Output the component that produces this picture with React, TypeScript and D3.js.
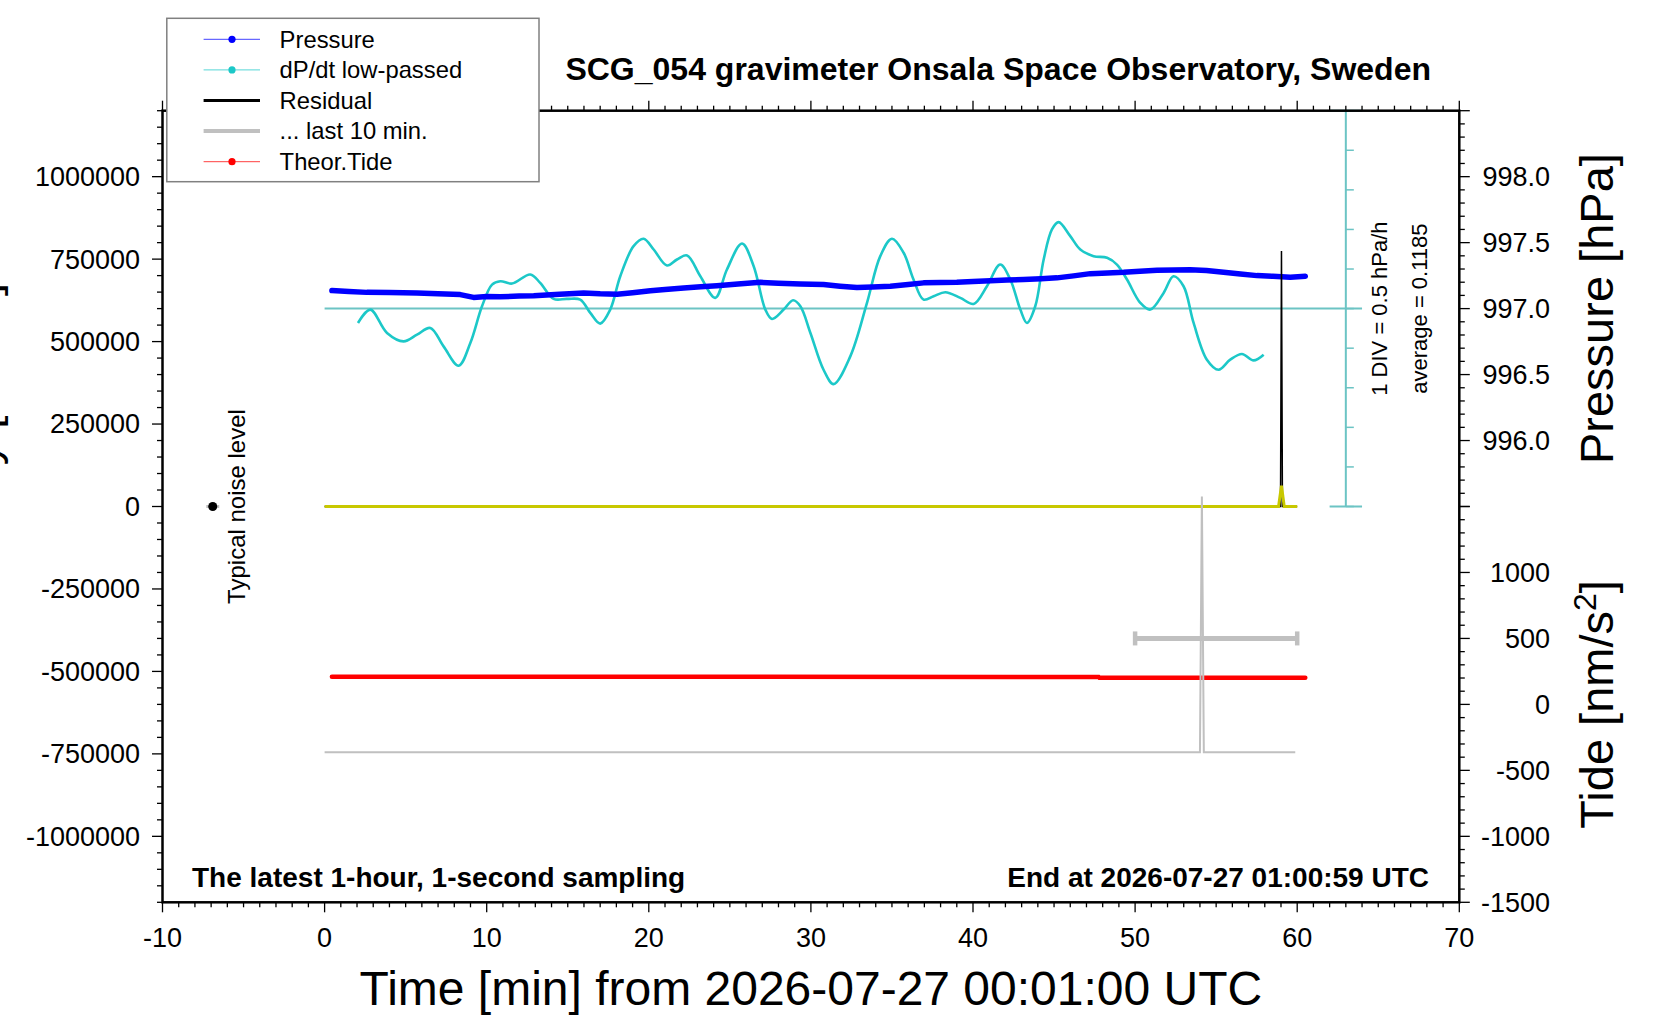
import React from "react";
import * as d3 from "d3";

// ---------------- data ----------------
const pressureT = [0.45, 1.5, 2.6, 4.0, 5.7, 7.0, 8.37, 9.19, 10.0, 10.84, 12.0, 12.9, 14.5, 15.98, 17.0, 18.04, 19.0, 20.1, 21.0, 22.15, 23.2, 24.2, 25.5, 26.88, 28.0, 29.35, 30.78, 31.8, 32.84, 33.8, 34.9, 36.0, 36.95, 38.0, 39.0, 40.0, 41.07, 42.1, 43.12, 44.2, 45.18, 46.2, 47.24, 48.3, 49.29, 50.3, 51.35, 52.4, 53.4, 54.4, 55.46, 56.5, 57.52, 58.5, 59.57, 60.5];
const pressureV = [997.137, 997.130, 997.123, 997.122, 997.119, 997.112, 997.106, 997.085, 997.092, 997.090, 997.095, 997.098, 997.108, 997.119, 997.112, 997.108, 997.120, 997.136, 997.145, 997.157, 997.165, 997.174, 997.186, 997.199, 997.193, 997.186, 997.182, 997.170, 997.160, 997.163, 997.169, 997.182, 997.195, 997.198, 997.199, 997.205, 997.212, 997.216, 997.220, 997.226, 997.233, 997.248, 997.265, 997.270, 997.275, 997.283, 997.290, 997.293, 997.295, 997.288, 997.275, 997.262, 997.250, 997.245, 997.237, 997.245];

const dpdtAverage = 0.1185;
const dpdtT = [2.06, 2.82, 3.85, 4.87, 5.7, 6.52, 7.34, 8.27, 8.99, 9.71, 10.33, 10.84, 11.56, 12.69, 13.3, 14.13, 14.95, 15.77, 16.39, 17.0, 17.62, 18.24, 19.06, 19.68, 20.3, 21.12, 21.74, 22.36, 23.18, 24.1, 24.82, 25.75, 26.47, 27.19, 27.6, 28.32, 28.9, 29.35, 29.97, 30.78, 31.4, 32.43, 33.46, 34.28, 35.0, 35.72, 36.33, 36.95, 37.57, 38.29, 39.22, 40.04, 40.86, 41.68, 42.3, 42.92, 43.33, 43.84, 44.36, 44.87, 45.28, 46.0, 46.62, 47.44, 48.27, 48.88, 49.5, 50.32, 50.94, 51.76, 52.37, 52.99, 53.61, 54.43, 55.15, 55.87, 56.59, 57.31, 57.93];
const dpdtV = [-0.063, 0.106, -0.189, -0.295, -0.211, -0.126, -0.359, -0.603, -0.316, 0.148, 0.422, 0.464, 0.435, 0.549, 0.444, 0.241, 0.241, 0.232, 0.064, -0.071, 0.106, 0.527, 0.907, 1.001, 0.865, 0.663, 0.739, 0.79, 0.527, 0.254, 0.612, 0.941, 0.654, 0.106, -0.012, 0.106, 0.224, 0.148, -0.189, -0.654, -0.835, -0.485, 0.191, 0.781, 1.001, 0.824, 0.486, 0.232, 0.274, 0.325, 0.254, 0.178, 0.401, 0.675, 0.486, 0.106, -0.063, 0.148, 0.739, 1.119, 1.211, 1.034, 0.865, 0.781, 0.76, 0.675, 0.486, 0.191, 0.106, 0.317, 0.527, 0.401, -0.063, -0.527, -0.654, -0.527, -0.455, -0.536, -0.464];

const tideT = [0.45, 47.75, 47.8, 60.5];
const tideV = [209, 208.5, 202, 201.5];

const residualT = [0, 58.97, 59.03, 59.09, 60];
const residualV = [0, 0, 775000, 0, 0];

const smoothT = [0, 58.85, 59.03, 59.2, 60];
const smoothV = [0, 0, 63000, 0, 0];

const lastTenOffset = -745000;
const lastTenT = [50, 59.0, 59.02, 59.04, 59.98];
const lastTenV = [0, 0, 775000, 0, 0];
const lastTenBarT = [50, 60];
const lastTenBarV = -400000;

const noiseT = -6.9;
const noiseV = 0;
const noiseHalf = 0.4;

const leftMajor = [-1000000, -750000, -500000, -250000, 0, 250000, 500000, 750000, 1000000];
const pressureLabels = [996.0, 996.5, 997.0, 997.5, 998.0];
const tideLabels = [-1500, -1000, -500, 0, 500, 1000];
const timeLabels = [-10, 0, 10, 20, 30, 40, 50, 60, 70];

const legendItems = [
  { label: "Pressure", color: "#0000ff", width: 1, dot: true },
  { label: "dP/dt low-passed", color: "#1cc8c8", width: 1, dot: true },
  { label: "Residual", color: "#000000", width: 3, dot: false },
  { label: "... last 10 min.", color: "#c0c0c0", width: 4, dot: false },
  { label: "Theor.Tide", color: "#ff0000", width: 1, dot: true },
];

const FONT = "'Liberation Sans', Arial, Helvetica, sans-serif";

export default function App() {
  const L = 162.5, R = 1459.3, T = 110.7, B = 902.3, MID = 506.5;
  const x = d3.scaleLinear().domain([-10, 70]).range([L, R]);
  const yLeft = d3.scaleLinear().domain([-1200000, 1200000]).range([B, T]);
  const yPress = d3.scaleLinear().domain([995.5, 998.5]).range([MID, T]);
  const yTide = d3.scaleLinear().domain([-1500, 1500]).range([B, MID]);
  const yDpdt = d3.scaleLinear().domain([dpdtAverage - 2.5, dpdtAverage + 2.5]).range([MID, T]);
  const xLast = d3.scaleLinear().domain([50, 60]).range([0, 60]);

  const ln = d3.line<[number, number]>().x((d) => d[0]).y((d) => d[1]);
  const lnCurve = d3.line<[number, number]>().x((d) => d[0]).y((d) => d[1]).curve(d3.curveCatmullRom.alpha(0.5));

  const pressurePts = pressureT.map((t, i) => [x(t), yPress(pressureV[i])] as [number, number]);
  const dpdtPts = dpdtT.map((t, i) => [x(t), yDpdt(dpdtV[i])] as [number, number]);
  const tidePts = tideT.map((t, i) => [x(t), yTide(tideV[i])] as [number, number]);
  const resPts = residualT.map((t, i) => [x(t), yLeft(residualV[i])] as [number, number]);
  const smPts = smoothT.map((t, i) => [x(t), yLeft(smoothV[i])] as [number, number]);
  const lastPts = lastTenT.map((t, i) => [x(xLast(t)), yLeft(lastTenOffset + lastTenV[i])] as [number, number]);

  const minorTime = d3.range(-10, 71);
  const leftMinor = d3.range(-24, 25).map((k) => k * 50000);
  const pressTicks = d3.range(0, 31).map((k) => ({ v: 995.5 + k * 0.1, major: k % 5 === 0 }));
  const tideTicks = d3.range(-15, 16).map((k) => ({ v: k * 100, major: k % 5 === 0 }));
  const dpdtTicks = d3.range(-5, 6).map((k) => dpdtAverage + k * 0.5);

  const cyanAxisX = x(63);
  const avgY = yDpdt(dpdtAverage);
  const barY = yLeft(lastTenBarV);

  return (
    <svg width={1660} height={1020} style={{ position: "absolute", left: 0, top: 0, background: "#fff" }} fontFamily={FONT}>
      <rect x={0} y={0} width={1660} height={1020} fill="#fff" />

      {/* dP/dt reference axis */}
      <line x1={x(0)} x2={x(64)} y1={avgY} y2={avgY} stroke="#6cc4c4" strokeWidth={2} />
      <line x1={cyanAxisX} x2={cyanAxisX} y1={T} y2={MID} stroke="#6cc4c4" strokeWidth={2} />
      <line x1={x(62)} x2={x(64)} y1={MID} y2={MID} stroke="#6cc4c4" strokeWidth={2} />
      <line x1={x(62)} x2={x(64)} y1={T} y2={T} stroke="#6cc4c4" strokeWidth={2} />
      {dpdtTicks.map((v, i) => (
        <line key={"dt" + i} x1={cyanAxisX} x2={cyanAxisX + 8} y1={yDpdt(v)} y2={yDpdt(v)} stroke="#6cc4c4" strokeWidth={1.5} />
      ))}
      <text transform={`translate(1387,${avgY}) rotate(-90)`} textAnchor="middle" fontSize={22}>1 DIV = 0.5 hPa/h</text>
      <text transform={`translate(1427,${avgY}) rotate(-90)`} textAnchor="middle" fontSize={22}>average = {dpdtAverage}</text>

      {/* dP/dt curve */}
      <path d={lnCurve(dpdtPts) || ""} fill="none" stroke="#1cc8c8" strokeWidth={2.6} />

      {/* pressure */}
      <path d={ln(pressurePts) || ""} fill="none" stroke="#0000ff" strokeWidth={5.5} strokeLinejoin="round" strokeLinecap="round" />

      {/* residual */}
      <path d={ln(resPts) || ""} fill="none" stroke="#000" strokeWidth={1.5} />
      <path d={ln(smPts) || ""} fill="none" stroke="#c8c800" strokeWidth={3} />

      {/* tide */}
      <path d={ln(tidePts) || ""} fill="none" stroke="#ff0000" strokeWidth={4.5} strokeLinecap="round" />

      {/* last 10 min */}
      <path d={ln(lastPts) || ""} fill="none" stroke="#c0c0c0" strokeWidth={2} />
      <line x1={x(lastTenBarT[0])} x2={x(lastTenBarT[1])} y1={barY} y2={barY} stroke="#c0c0c0" strokeWidth={5} />
      {lastTenBarT.map((t, i) => (
        <line key={"cap" + i} x1={x(t)} x2={x(t)} y1={barY - 7} y2={barY + 7} stroke="#c0c0c0" strokeWidth={4.5} />
      ))}

      {/* noise level */}
      <line x1={x(noiseT - noiseHalf)} x2={x(noiseT + noiseHalf)} y1={yLeft(noiseV)} y2={yLeft(noiseV)} stroke="#c0c0c0" strokeWidth={3} />
      <circle cx={x(noiseT)} cy={yLeft(noiseV)} r={4.5} fill="#000" />
      <text transform={`translate(245,${yLeft(0)}) rotate(-90)`} textAnchor="middle" fontSize={24}>Typical noise level</text>

      {/* frame */}
      <rect x={L} y={T} width={R - L} height={B - T} fill="none" stroke="#000" strokeWidth={2.5} />

      {/* time ticks */}
      {minorTime.map((t) => {
        const major = t % 10 === 0;
        const len = major ? 10 : 5;
        return (
          <g key={"tt" + t}>
            <line x1={x(t)} x2={x(t)} y1={B} y2={B + len} stroke="#000" strokeWidth={1.3} />
            <line x1={x(t)} x2={x(t)} y1={T} y2={T - len} stroke="#000" strokeWidth={1.3} />
          </g>
        );
      })}
      {timeLabels.map((t) => (
        <text key={"tl" + t} x={x(t)} y={946.7} textAnchor="middle" fontSize={27}>{t}</text>
      ))}

      {/* left ticks */}
      {leftMinor.map((v) => {
        const major = v % 250000 === 0;
        return <line key={"lm" + v} x1={L} x2={L - (major ? 10.5 : 5.5)} y1={yLeft(v)} y2={yLeft(v)} stroke="#000" strokeWidth={1.3} />;
      })}
      {leftMajor.map((v) => (
        <text key={"ll" + v} x={140} y={yLeft(v)} dy="0.35em" textAnchor="end" fontSize={27}>{v}</text>
      ))}

      {/* right ticks */}
      {pressTicks.map((d, i) => (
        <line key={"pt" + i} x1={R} x2={R + (d.major ? 10.5 : 5.5)} y1={yPress(d.v)} y2={yPress(d.v)} stroke="#000" strokeWidth={1.3} />
      ))}
      {tideTicks.map((d, i) => (
        <line key={"tk" + i} x1={R} x2={R + (d.major ? 10.5 : 5.5)} y1={yTide(d.v)} y2={yTide(d.v)} stroke="#000" strokeWidth={1.3} />
      ))}
      {pressureLabels.map((v) => (
        <text key={"pl" + v} x={1550} y={yPress(v)} dy="0.35em" textAnchor="end" fontSize={27}>{v.toFixed(1)}</text>
      ))}
      {tideLabels.map((v) => (
        <text key={"tdl" + v} x={1550} y={yTide(v)} dy="0.35em" textAnchor="end" fontSize={27}>{v}</text>
      ))}

      {/* axis titles */}
      <text transform={`translate(1613,${(T + MID) / 2}) rotate(-90)`} textAnchor="middle" fontSize={47}>Pressure [hPa]</text>
      <text transform={`translate(1613,${(MID + B) / 2}) rotate(-90)`} textAnchor="middle" fontSize={47}>
        Tide [nm/s<tspan dy={-17} fontSize={32}>2</tspan><tspan dy={17}>]</tspan>
      </text>
      <text transform={`translate(-2,283) rotate(-90)`} textAnchor="end" fontSize={47}>
        Gravity [nm/s<tspan dy={-17} fontSize={32}>2</tspan><tspan dy={17}>]</tspan>
      </text>
      <text x={(L + R) / 2} y={1005} textAnchor="middle" fontSize={48}>Time [min] from 2026-07-27 00:01:00 UTC</text>

      {/* titles */}
      <text x={1431} y={80} textAnchor="end" fontSize={32} fontWeight="bold">SCG_054 gravimeter Onsala Space Observatory, Sweden</text>
      <text x={192} y={886.7} fontSize={28} fontWeight="bold">The latest 1-hour, 1-second sampling</text>
      <text x={1429} y={886.7} textAnchor="end" fontSize={28} fontWeight="bold">End at 2026-07-27 01:00:59 UTC</text>

      {/* legend */}
      <rect x={166.8} y={18.3} width={372.2} height={163.4} fill="#fff" stroke="#808080" strokeWidth={1.5} />
      {legendItems.map((it, i) => {
        const cy = 39.3 + i * 30.6;
        return (
          <g key={"lg" + i}>
            <line x1={203.6} x2={260} y1={cy} y2={cy} stroke={it.color} strokeWidth={it.width} strokeOpacity={it.dot ? 0.75 : 1} />
            {it.dot && <circle cx={232} cy={cy} r={3.6} fill={it.color} />}
            <text x={279.6} y={cy} dy="0.35em" fontSize={23.8}>{it.label}</text>
          </g>
        );
      })}
    </svg>
  );
}
